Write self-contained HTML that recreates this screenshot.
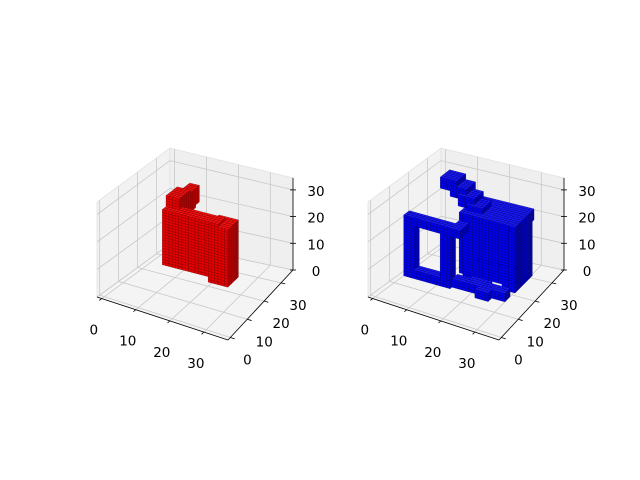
<!DOCTYPE html>
<html><head><meta charset="utf-8">
<style>
html,body{margin:0;padding:0;background:#fff;}
svg{display:block;}
text{font-family:"DejaVu Sans","Liberation Sans",sans-serif;font-size:13.5px;fill:#000;}
</style></head>
<body>
<svg id="fig" width="640" height="480" viewBox="0 0 640 480">
<rect width="640" height="480" fill="#fff"/>
<g id="ax1"></g>
<g id="ax2"></g>
</svg>
<script>
// tick values
const xTicks = [0, 10, 20, 30];
const yTicks = [0, 10, 20, 30];
const zTicks = [0, 10, 20, 30];
// voxel boxes [x0,x1,y0,y1,z0,z1] (data units)
const redBoxes = [
  [5, 22, 22, 26, 2, 22],
  [19, 25, 22, 28, 0, 21],
  [5, 9, 26, 33, 18, 24],
  [5, 9, 24, 30, 20, 26],
  [6, 9, 29, 35, 19, 25]
];
const blueBoxes = [
  [0, 3, 15, 18, 0, 22],
  [11, 14, 15, 18, 0, 22],
  [0, 14, 15, 18, 0, 3],
  [0, 14, 15, 18, 19, 22],
  [14, 30, 16, 19, 0, 3],
  [14, 17, 15, 21, 19, 22],
  [14, 30, 20, 28, 3, 25],
  [27, 31, 20, 30, 1, 25],
  [12, 31, 27, 31, 21, 25],
  [6, 11, 24, 29, 29, 33],
  [9, 14, 24, 29, 27, 31],
  [12, 17, 23, 28, 25, 29],
  [15, 20, 22, 27, 23, 27],
  [14, 18, 22, 26, 0, 3],
  [16, 20, 20, 24, 0, 3],
  [18, 22, 18, 22, 0, 3],
  [20, 24, 16, 20, 0, 3],
  [22, 26, 14, 18, 0, 3],
  [14, 30, 26, 30, 0, 3]
];
const XL = -1.4, XH = 37.1, YL = -1.4, YH = 37.1, ZL = 0, ZH = 34.5;
const A = [97, 297], B = [228, 340], C = [293, 270], D = [170, 244];
const HS = [2.75, 2.8, 2.67, 2.78];
const NS = 'http://www.w3.org/2000/svg';

function proj(x, y, z, ox) {
  const u = (x - XL) / (XH - XL), v = (y - YL) / (YH - YL);
  const w00 = (1 - u) * (1 - v), w10 = u * (1 - v), w11 = u * v, w01 = (1 - u) * v;
  const bx = A[0] * w00 + B[0] * w10 + C[0] * w11 + D[0] * w01;
  const by = A[1] * w00 + B[1] * w10 + C[1] * w11 + D[1] * w01;
  const h = HS[0] * w00 + HS[1] * w10 + HS[2] * w11 + HS[3] * w01;
  return [bx + ox, by - (z - ZL) * h];
}
function mk(tag, attrs, parent) {
  const e = document.createElementNS(NS, tag);
  for (const k in attrs) e.setAttribute(k, attrs[k]);
  parent.appendChild(e);
  return e;
}
function pts(arr) { return arr.map(p => p[0].toFixed(2) + ',' + p[1].toFixed(2)).join(' '); }
function line(g, p, q, color, w) {
  return mk('line', {x1: p[0], y1: p[1], x2: q[0], y2: q[1], stroke: color, 'stroke-width': w}, g);
}

function drawAxes(g, ox, boxes, cols, name) {
  const P = (x, y, z) => proj(x, y, z, ox);
  const floor = mk('polygon', {points: pts([P(XL,YL,0),P(XH,YL,0),P(XH,YH,0),P(XL,YH,0)]), fill: '#f4f4f4', stroke: '#e2e2e2', 'stroke-width': 0.8}, g);
  
  
  const left = mk('polygon', {points: pts([P(XL,YL,0),P(XL,YH,0),P(XL,YH,ZH),P(XL,YL,ZH)]), fill: '#f2f2f2', stroke: '#e2e2e2', 'stroke-width': 0.8}, g);
  
  
  const back = mk('polygon', {points: pts([P(XL,YH,0),P(XH,YH,0),P(XH,YH,ZH),P(XL,YH,ZH)]), fill: '#efefef', stroke: '#e2e2e2', 'stroke-width': 0.8}, g);
  
  
  const gc = '#c9c9c9', gw = 0.8;
  xTicks.forEach(t => {
    const l1 = line(g, P(t,YL,0), P(t,YH,0), gc, gw);
    
    
    const l2 = line(g, P(t,YH,0), P(t,YH,ZH), gc, gw);
    
    
  });
  yTicks.forEach(t => {
    const l1 = line(g, P(XL,t,0), P(XH,t,0), gc, gw);
    
    
    const l2 = line(g, P(XL,t,0), P(XL,t,ZH), gc, gw);
    
    
  });
  zTicks.forEach(t => {
    const l1 = line(g, P(XL,YH,t), P(XH,YH,t), gc, gw);
    
    
    const l2 = line(g, P(XL,YL,t), P(XL,YH,t), gc, gw);
    
    
  });
  const ax = line(g, P(XL,YL,0), P(XH,YL,0), '#000', 0.8);
  
  
  const ay = line(g, P(XH,YL,0), P(XH,YH,0), '#000', 0.8);
  
  
  const az = line(g, P(XH,YH,0), P(XH,YH,ZH), '#000', 0.8);
  
  
  xTicks.forEach(t => {
    const p = P(t,YL,0), q = P(t,YL-1.3,0);
    const tk = line(g, p, q, '#000', 0.8);
    
    
    const tx = mk('text', {x: p[0]-8, y: p[1]+36, 'text-anchor': 'middle'}, g);
    tx.textContent = t;
    
    
  });
  yTicks.forEach(t => {
    const p = P(XH,t,0), q = P(XH+1.3,t,0);
    const tk = line(g, p, q, '#000', 0.8);
    
    
    const tx = mk('text', {x: p[0]+17, y: p[1]+27, 'text-anchor': 'middle'}, g);
    tx.textContent = t;
    
    
  });
  zTicks.forEach(t => {
    const p = P(XH,YH,t);
    const tk = line(g, [p[0]-3,p[1]], [p[0]+3,p[1]], '#000', 0.8);
    
    
    const tx = mk('text', {x: p[0]+23, y: p[1]+6, 'text-anchor': 'middle'}, g);
    tx.textContent = t;
    
    
  });
  const set = new Set();
  const key = (i,j,k) => i + ',' + j + ',' + k;
  boxes.forEach(b => {
    for (let i = b[0]; i < b[1]; i++) for (let j = b[2]; j < b[3]; j++) for (let k = b[4]; k < b[5]; k++) set.add(key(i,j,k));
  });
  const vox = Array.from(set).map(s => s.split(',').map(Number));
  vox.sort((a, b) => (a[0] - a[1] + a[2]) - (b[0] - b[1] + b[2]));
  const vg = mk('g', {}, g);
  
  
  vox.forEach(([i,j,k]) => {
    const faces = [];
    if (!set.has(key(i,j,k+1))) faces.push([[P(i,j,k+1),P(i+1,j,k+1),P(i+1,j+1,k+1),P(i,j+1,k+1)], cols[0]]);
    if (!set.has(key(i,j-1,k))) faces.push([[P(i,j,k),P(i+1,j,k),P(i+1,j,k+1),P(i,j,k+1)], cols[1]]);
    if (!set.has(key(i+1,j,k))) faces.push([[P(i+1,j,k),P(i+1,j+1,k),P(i+1,j+1,k+1),P(i+1,j,k+1)], cols[2]]);
    faces.forEach(f => {
      const pg = mk('polygon', {points: pts(f[0]), fill: f[1], stroke: cols[3], 'stroke-width': 0.35}, vg);
      
      
    });
  });
}
drawAxes(document.getElementById('ax1'), 0, redBoxes, ['#ff1010', '#e80000', '#b80000', '#700000'], 'red-voxels');
drawAxes(document.getElementById('ax2'), 271, blueBoxes, ['#1818ff', '#0000ee', '#0000b8', '#000070'], 'blue-voxels');
</script>
</body></html>
